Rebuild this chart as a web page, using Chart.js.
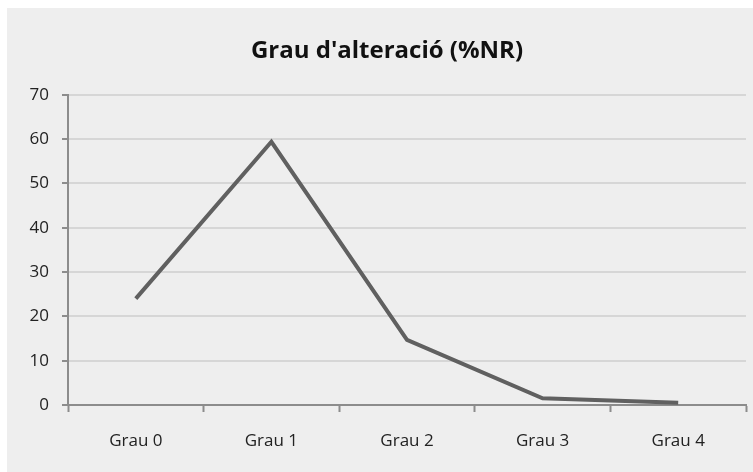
<!DOCTYPE html>
<html lang="ca">
<head>
    <meta charset="UTF-8">
    <title>Grau d'alteració (%NR)</title>
    <script src="https://cdn.jsdelivr.net/npm/chart.js"></script>
    <style>
        body {
            margin: 0;
            background: #ffffff;
        }
        #myChart {
            position: absolute;
            left: 7px;
            top: 8px;
            background: #eeeeee;
        }
    </style>
</head>
<body>

<canvas id="myChart" width="746" height="464"></canvas>

<script>
    const categories = ['Grau 0', 'Grau 1', 'Grau 2', 'Grau 3', 'Grau 4'];
    const percentNR = [24, 59.4, 14.7, 1.5, 0.5];
    const yTicks = [0, 10, 20, 30, 40, 50, 60, 70];

    const axisGray = '#8c8c8c';
    const tickFont = { family: 'Open Sans', size: 17 };

    const ctx = document.getElementById('myChart').getContext('2d');
    const chart = new Chart(ctx, {
        type: 'line',
        data: {
            labels: categories,
            datasets: [{
                label: 'Grau d\'alteració (%NR)',
                data: percentNR,
                borderColor: '#606060',
                borderWidth: 4,
                borderJoinStyle: 'miter',
                tension: 0,
                pointRadius: 0,
                fill: false
            }]
        },
        options: {
            responsive: false,
            devicePixelRatio: 1,
            animation: false,
            layout: {
                padding: { left: 21, right: 7, top: 0, bottom: 0 }
            },
            plugins: {
                legend: { display: false },
                tooltip: { enabled: false },
                title: {
                    display: true,
                    text: 'Grau d\'alteració (%NR)',
                    color: '#111111',
                    font: { family: 'Open Sans', size: 24, weight: 'bold' },
                    padding: { top: 29, bottom: 29 }
                }
            },
            scales: {
                x: {
                    type: 'category',
                    offset: true,
                    grid: {
                        offset: true,
                        drawOnChartArea: false,
                        drawTicks: true,
                        tickLength: 7,
                        tickWidth: 2,
                        tickColor: axisGray
                    },
                    border: { color: axisGray, width: 2 },
                    ticks: {
                        color: '#222222',
                        font: tickFont,
                        padding: 19,
                        maxRotation: 0
                    },
                    afterFit: function (scale) {
                        scale.height = 67;
                    }
                },
                y: {
                    min: 0,
                    max: 70,
                    afterBuildTicks: function (scale) {
                        scale.ticks = yTicks.map(v => ({ value: v }));
                    },
                    grid: {
                        color: '#d6d6d6',
                        lineWidth: 2,
                        drawTicks: true,
                        tickLength: 6,
                        tickWidth: 2,
                        tickColor: axisGray
                    },
                    border: { color: axisGray, width: 2 },
                    ticks: {
                        color: '#222222',
                        font: tickFont,
                        padding: 13
                    },
                    afterFit: function (scale) {
                        scale.width = 40;
                    }
                }
            }
        }
    });
</script>

</body>
</html>
